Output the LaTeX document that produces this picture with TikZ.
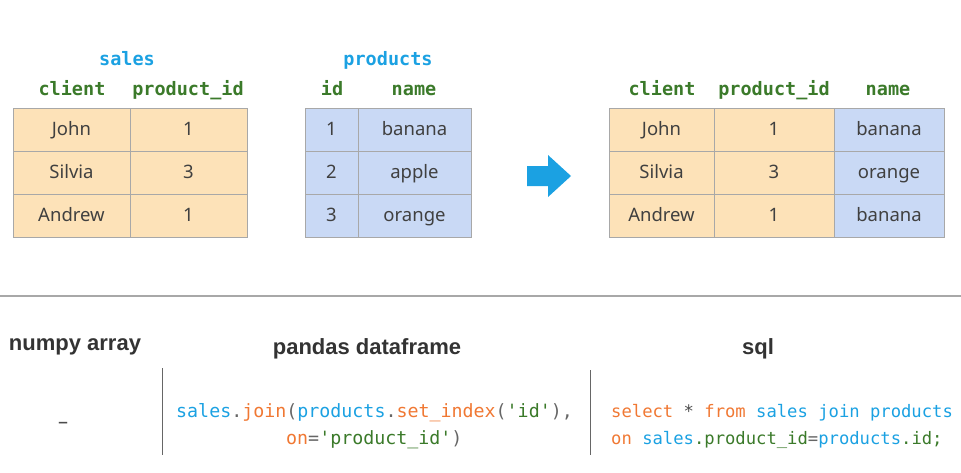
\documentclass[tikz,border=0pt]{standalone}
\usepackage{fontspec}
\setmainfont{Noto Sans}
\newfontfamily\monof{DejaVu Sans Mono}
\newfontfamily\headf{Liberation Sans}
\definecolor{cor}{HTML}{FDE2B8}
\definecolor{cbl}{HTML}{C9D9F5}
\definecolor{cgr}{HTML}{3B7A2A}
\definecolor{cbt}{HTML}{1BA1E2}
\definecolor{cdo}{HTML}{F07833}
\definecolor{cgy}{HTML}{666666}
\definecolor{cln}{HTML}{A8A8A8}
\begin{document}
\begin{tikzpicture}[x=1pt,y=-1pt,
  cell/.style={draw=cln,line width=1pt,minimum height=43pt,inner sep=0pt,text height=13pt,text depth=1pt,font=\fontsize{18.5}{18.5}\selectfont,text=black!75},
  oc/.style={cell,fill=cor},
  bc/.style={cell,fill=cbl},
  hd/.style={font=\monof\bfseries\fontsize{18.5}{18.5}\selectfont,text=cgr,text height=12pt,text depth=4pt,inner sep=0pt},
  tt/.style={hd,text=cbt},
  bh/.style={font=\headf\bfseries\fontsize{22}{22}\selectfont,text=black!80},
  code/.style={font=\monof\fontsize{18.3}{18.3}\selectfont,inner sep=0pt},
  sql/.style={font=\monof\fontsize{17.2}{17.2}\selectfont,inner sep=0pt}]
\useasboundingbox (0,0) rectangle (961,472);
% sales
\node[tt] (ts) at (127,61) {sales};
\node[hd] (h1) at (72,91) {client};
\node[hd] (h2) at (188,91) {product\_id};
\foreach \n/\a/\b [count=\i] in {John/1,Silvia/3,Andrew/1}{
  \node[oc,minimum width=117pt] (s\i a) at (71.5,86.5+43*\i) {\n};
  \node[oc,minimum width=117pt] (s\i b) at (188.5,86.5+43*\i) {\a};}
% products
\node[tt] (tp) at (388,61) {products};
\node[hd] (h3) at (332,91) {id};
\node[hd] (h4) at (414,91) {name};
\foreach \a/\b [count=\i] in {1/banana,2/apple,3/orange}{
  \node[bc,minimum width=53pt] (p\i a) at (331.5,86.5+43*\i) {\a};
  \node[bc,minimum width=113pt] (p\i b) at (414.5,86.5+43*\i) {\b};}
% arrow
\fill[cbt] (527,166) -- (548,166) -- (548,155) -- (571,176) -- (548,197) -- (548,186) -- (527,186) -- cycle;
% result
\node[hd] (h5) at (662,91) {client};
\node[hd] (h6) at (774,91) {product\_id};
\node[hd] (h7) at (888,91) {name};
\foreach \n/\a/\b [count=\i] in {John/1/banana,Silvia/3/orange,Andrew/1/banana}{
  \node[oc,minimum width=105pt] (r\i a) at (661.5,86.5+43*\i) {\n};
  \node[oc,minimum width=120pt] (r\i b) at (774,86.5+43*\i) {\a};
  \node[bc,minimum width=110pt] (r\i c) at (889,86.5+43*\i) {\b};}
% divider
\draw[cln,line width=1.5pt] (0,296) -- (961,296);
\draw[black!60,line width=1pt] (162,368) -- (162,455);
\draw[black!60,line width=1pt] (590,370) -- (590,455);
% bottom
\node[bh] (b1) at (75,347) {numpy array};
\node[bh] (b2) at (367,349) {pandas dataframe};
\node[bh] (b3) at (758,349) {sql};
\node[font=\fontsize{20}{20}\selectfont,text=black!70] (dash) at (63,425) {–};
\node[code,anchor=west] (c1) at (176,413) {\textcolor{cbt}{sales}\textcolor{cgy}{.}\textcolor{cdo}{join}\textcolor{cgy}{(}\textcolor{cbt}{products}\textcolor{cgy}{.}\textcolor{cdo}{set\_index}\textcolor{cgy}{(}\textcolor{cgr}{'id'}\textcolor{cgy}{),}};
\node[code,anchor=west] (c2) at (286,440) {\textcolor{cdo}{on}\textcolor{cgy}{=}\textcolor{cgr}{'product\_id'}\textcolor{cgy}{)}};
\node[sql,anchor=west] (c3) at (611,413) {\textcolor{cdo}{select}\ \textcolor{black!70}{*}\ \textcolor{cdo}{from}\ \textcolor{cbt}{sales\ join\ products}};
\node[sql,anchor=west] (c4) at (611,440) {\textcolor{cdo}{on}\ \textcolor{cbt}{sales}\textcolor{cgr}{.product\_id}\textcolor{cgy}{=}\textcolor{cbt}{products}\textcolor{cgr}{.id;}};
\end{tikzpicture}
\end{document}
